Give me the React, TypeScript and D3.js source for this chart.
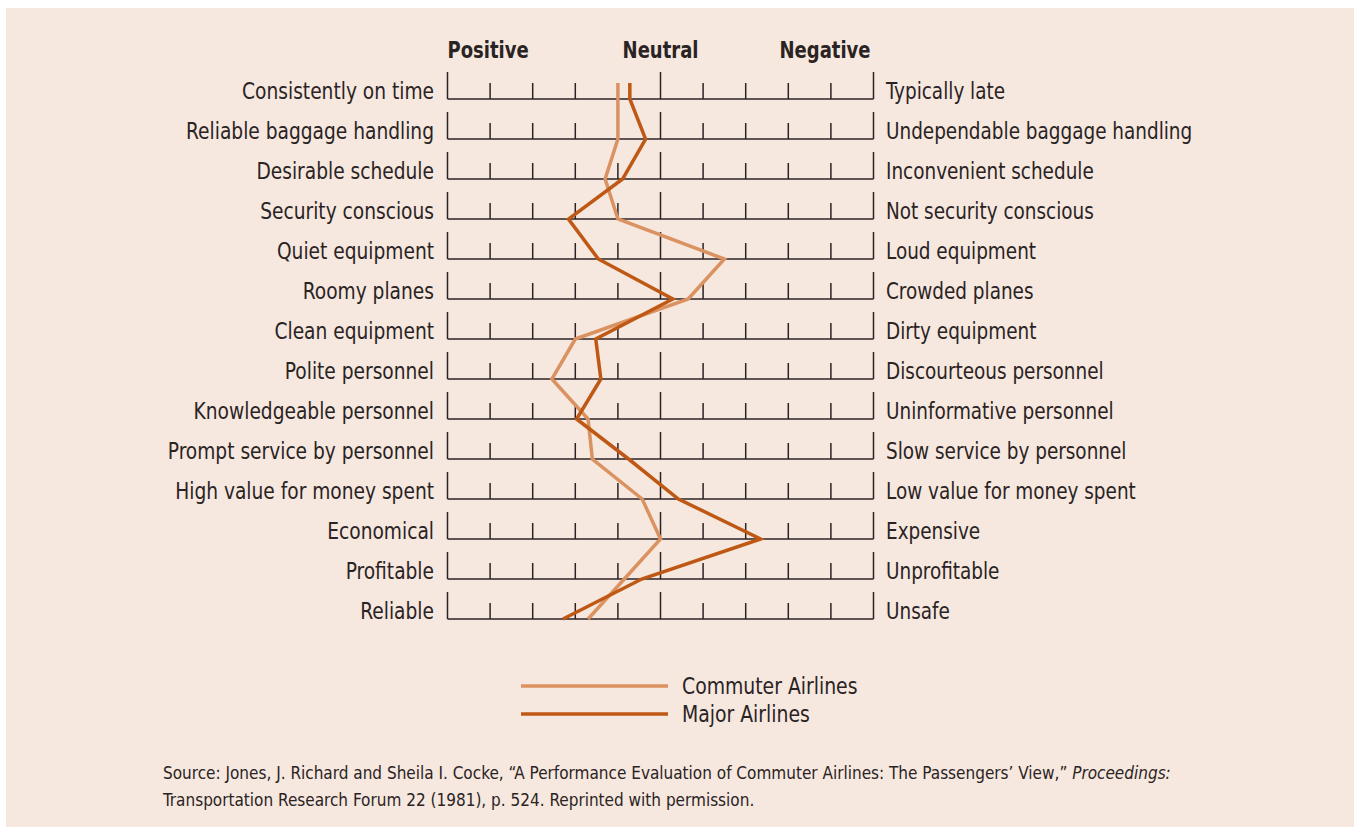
import React from "react";
import * as d3 from "d3";

const positiveLabels = [
  "Consistently on time",
  "Reliable baggage handling",
  "Desirable schedule",
  "Security conscious",
  "Quiet equipment",
  "Roomy planes",
  "Clean equipment",
  "Polite personnel",
  "Knowledgeable personnel",
  "Prompt service by personnel",
  "High value for money spent",
  "Economical",
  "Profitable",
  "Reliable",
];

const negativeLabels = [
  "Typically late",
  "Undependable baggage handling",
  "Inconvenient schedule",
  "Not security conscious",
  "Loud equipment",
  "Crowded planes",
  "Dirty equipment",
  "Discourteous personnel",
  "Uninformative personnel",
  "Slow service by personnel",
  "Low value for money spent",
  "Expensive",
  "Unprofitable",
  "Unsafe",
];

// -5 = most positive, 0 = neutral, +5 = most negative
const commuterValues = [-1.0, -1.0, -1.3, -1.0, 1.5, 0.65, -2.0, -2.55, -1.7, -1.6, -0.43, 0.0, -0.85, -1.7];
const majorValues = [-0.72, -0.35, -0.89, -2.16, -1.46, 0.29, -1.52, -1.4, -1.97, -0.75, 0.42, 2.35, -0.44, -2.29];

const scaleTicks = d3.range(-5, 6, 1);
const headers = ["Positive", "Neutral", "Negative"];

const seriesNames = ["Commuter Airlines", "Major Airlines"];
const seriesColors = ["#db9261", "#bf5815"];

const W = 1354;
const H = 827;
const font = "'Liberation Sans Narrow', 'DejaVu Sans Condensed', Arial, sans-serif";
const ink = "#2a2324";

// condensed text: squeeze horizontally around the anchor point
const Narrow = ({ x, y, sx, anchor, size, weight, children }: any) => (
  <text
    transform={`translate(${x}, ${y}) scale(${sx}, 1)`}
    textAnchor={anchor}
    fontSize={size}
    fontWeight={weight}
    fill={ink}
  >
    {children}
  </text>
);

const App = () => {
  const x = d3.scaleLinear().domain([-5, 5]).range([447.5, 873.5]);
  const y = d3
    .scalePoint<string>()
    .domain(positiveLabels)
    .range([99, 619]);

  const shortTick = 16;
  const longTick = 27;

  const series = [commuterValues, majorValues];
  const line = d3
    .line<[number, number]>()
    .x((d) => d[0])
    .y((d) => d[1]);

  const pathFor = (vals: number[]) => {
    const pts: [number, number][] = vals.map((v, i) => [x(v), y(positiveLabels[i]) as number]);
    // small lead-in above the first row
    pts.unshift([x(vals[0]), (y(positiveLabels[0]) as number) - shortTick]);
    return line(pts) || "";
  };

  return (
    <svg
      width={W}
      height={H}
      style={{ position: "absolute", left: 0, top: 0 }}
      fontFamily={font}
    >
      <rect x={6} y={8} width={W - 6} height={H - 8} fill="#f6e8de" />

      {/* column headers */}
      <Narrow x={x(-5)} y={58} sx={0.87} anchor="start" size={23} weight="bold">{headers[0]}</Narrow>
      <Narrow x={x(0)} y={58} sx={0.87} anchor="middle" size={23} weight="bold">{headers[1]}</Narrow>
      <Narrow x={x(5) - 3} y={58} sx={0.87} anchor="end" size={23} weight="bold">{headers[2]}</Narrow>

      {/* rows */}
      {positiveLabels.map((label, i) => {
        const yy = y(label) as number;
        return (
          <g key={label}>
            <line x1={x(-5)} x2={x(5)} y1={yy} y2={yy} stroke={ink} strokeWidth={1.5} />
            {scaleTicks.map((t) => {
              const long = t === -5 || t === 0 || t === 5;
              return (
                <line
                  key={t}
                  x1={x(t)}
                  x2={x(t)}
                  y1={yy}
                  y2={yy - (long ? longTick : shortTick)}
                  stroke={ink}
                  strokeWidth={1.5}
                />
              );
            })}
            <Narrow x={434} y={yy} sx={0.9} anchor="end" size={23}>{label}</Narrow>
            <Narrow x={886} y={yy} sx={0.89} anchor="start" size={23}>{negativeLabels[i]}</Narrow>
          </g>
        );
      })}

      {/* profile lines */}
      {series.map((vals, i) => (
        <path
          key={seriesNames[i]}
          d={pathFor(vals)}
          fill="none"
          stroke={seriesColors[i]}
          strokeWidth={3.5}
          strokeLinejoin="miter"
        />
      ))}

      {/* legend */}
      {seriesNames.map((name, i) => (
        <g key={name}>
          <line
            x1={521}
            x2={668}
            y1={686 + i * 28}
            y2={686 + i * 28}
            stroke={seriesColors[i]}
            strokeWidth={3.5}
          />
          <Narrow x={682} y={694 + i * 28} sx={0.91} anchor="start" size={23}>{name}</Narrow>
        </g>
      ))}

      {/* source note */}
      <g fontSize={17} fill={ink}>
        <text x={163} y={779}>
          Source: Jones, J. Richard and Sheila I. Cocke, “A Performance Evaluation of Commuter Airlines: The Passengers’ View,”{" "}
          <tspan fontStyle="italic">Proceedings:</tspan>
        </text>
        <text x={163} y={806}>
          Transportation Research Forum 22 (1981), p. 524. Reprinted with permission.
        </text>
      </g>
    </svg>
  );
};

export default App;
